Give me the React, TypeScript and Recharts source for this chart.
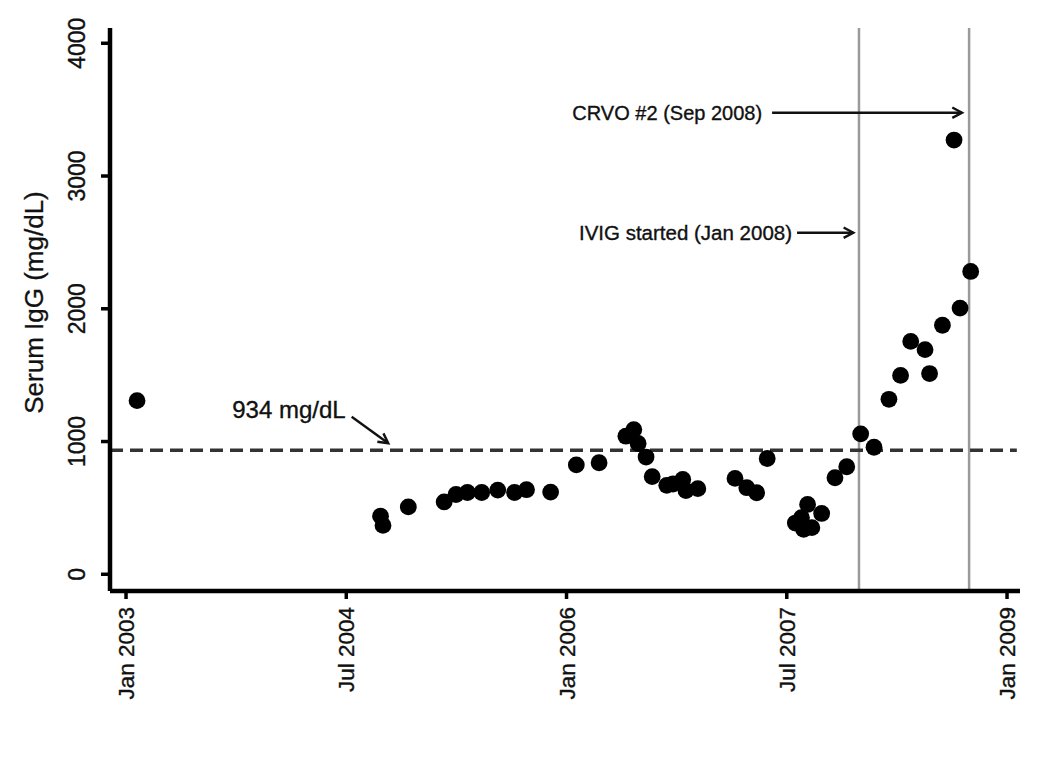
import React from 'react';
import { ScatterChart, Scatter, XAxis, YAxis, ReferenceLine } from 'recharts';

// x values: months elapsed since January 2003
const monthsSinceJan2003 = [
  0.9, 20.8, 21.0, 23.07, 26.0, 26.97, 27.9, 29.07, 30.38, 31.75, 32.73, 34.7,
  36.8, 38.66, 40.85, 41.5, 41.85, 42.5, 43.0, 44.19, 44.7, 45.5, 45.76, 46.73,
  49.77, 50.73, 51.54, 52.4, 54.7, 55.2, 55.38, 55.7, 56.05, 56.85, 57.94, 58.9,
  60.04, 61.13, 62.35, 63.3, 64.13, 65.3, 65.67, 66.72, 67.67, 68.16, 69.03,
];
// Serum IgG, mg/dL
const serumIgG = [
  1308, 438, 368, 508, 545, 601, 616, 616, 634, 616, 637, 619,
  824, 840, 1040, 1090, 985, 883, 736, 670, 680, 714, 630, 645,
  722, 652, 614, 872, 386, 426, 338, 526, 351, 458, 727, 810,
  1058, 957, 1318, 1498, 1754, 1692, 1512, 1876, 3271, 2005, 2281,
];

const xTickMonths = [0, 18, 36, 54, 72];
const xTickLabels = ['Jan 2003', 'Jul 2004', 'Jan 2006', 'Jul 2007', 'Jan 2009'];
const xDomain = [-1.31, 73.06];
const yTicks = [0, 1000, 2000, 3000, 4000];
const yDomain = [-126, 4115];

const thresholdValue = 934;
const eventMonths = [59.9, 68.9];

const annotationLabels = ['934 mg/dL', 'IVIG started (Jan 2008)', 'CRVO #2 (Sep 2008)'];
const annotationFrom = [
  { x: 18.44, y: 1187 },
  { x: 54.84, y: 2573 },
  { x: 52.8, y: 3477 },
];
const annotationTo = [
  { x: 21.43, y: 987 },
  { x: 59.44, y: 2573 },
  { x: 68.32, y: 3477 },
];

const FONT = '"Liberation Sans", Arial, Helvetica, sans-serif';
const TEXT_STROKE = 0.35;

const data = monthsSinceJan2003.map((m, i) => ({ x: m, y: serumIgG[i] }));

const labelStyle = [
  { size: 24, dx: -6, dy: 1.5 },
  { size: 20.5, dx: -5, dy: 7.5 },
  { size: 20, dx: -10, dy: 7.5 },
];

const makeArrow = (idx: number) => (props: any) => {
  const { x1, y1, x2, y2 } = props;
  const ang = Math.atan2(y2 - y1, x2 - x1);
  const L = 11;
  const spread = (28 * Math.PI) / 180;
  const ax = x2 - L * Math.cos(ang - spread);
  const ay = y2 - L * Math.sin(ang - spread);
  const bx = x2 - L * Math.cos(ang + spread);
  const by = y2 - L * Math.sin(ang + spread);
  const st = labelStyle[idx];
  return (
    <g>
      <line x1={x1} y1={y1} x2={x2} y2={y2} stroke="#111" strokeWidth={2.4} />
      <path
        d={`M${ax},${ay} L${x2},${y2} L${bx},${by}`}
        fill="none"
        stroke="#111"
        strokeWidth={2.4}
      />
      <text
        x={x1 + st.dx}
        y={y1 + st.dy}
        textAnchor="end"
        fontFamily={FONT}
        fontSize={st.size}
        fill="#111"
        stroke="#111"
        strokeWidth={TEXT_STROKE}
      >
        {annotationLabels[idx]}
      </text>
    </g>
  );
};

const XTick = (props: any) => {
  const { x, y, payload } = props;
  const i = xTickMonths.indexOf(payload.value);
  const tx = x + 8;
  return (
    <text
      x={tx}
      y={y}
      transform={`rotate(-90, ${tx}, ${y})`}
      textAnchor="end"
      fontFamily={FONT}
      fontSize={22.5}
      fill="#111"
      stroke="#111"
      strokeWidth={TEXT_STROKE}
    >
      {i >= 0 ? xTickLabels[i] : ''}
    </text>
  );
};

const YTick = (props: any) => {
  const { x, y, payload } = props;
  return (
    <text
      x={x}
      y={y}
      transform={`rotate(-90, ${x}, ${y})`}
      textAnchor="middle"
      fontFamily={FONT}
      fontSize={23}
      fill="#111"
      stroke="#111"
      strokeWidth={TEXT_STROKE}
    >
      {payload.value}
    </text>
  );
};

const YLabel = (props: any) => {
  const vb = props.viewBox || { x: 0, y: 28, width: 110, height: 563 };
  const lx = vb.x + 43;
  const ly = vb.y + vb.height / 2 - 7;
  return (
    <text
      x={lx}
      y={ly}
      transform={`rotate(-90, ${lx}, ${ly})`}
      textAnchor="middle"
      fontFamily={FONT}
      fontSize={26}
      fill="#111"
      stroke="#111"
      strokeWidth={0.3}
    >
      Serum IgG (mg/dL)
    </text>
  );
};

const Dot = (props: any) => <circle cx={props.cx} cy={props.cy} r={8.4} fill="#000" />;

export default function App() {
  return (
    <div style={{ position: 'absolute', left: 0, top: 0, width: 1050, height: 763, background: '#fff' }}>
      <ScatterChart
        width={1050}
        height={763}
        margin={{ top: 28, right: 30, bottom: 12, left: 0 }}
      >
        <XAxis
          type="number"
          dataKey="x"
          domain={xDomain}
          ticks={xTickMonths}
          interval={0}
          allowDataOverflow
          height={160}
          tickSize={8}
          tickMargin={8}
          axisLine={{ stroke: '#000', strokeWidth: 4.5 }}
          tickLine={{ stroke: '#000', strokeWidth: 3.5 }}
          tick={<XTick />}
        />
        <YAxis
          type="number"
          dataKey="y"
          domain={yDomain}
          ticks={yTicks}
          interval={0}
          allowDataOverflow
          width={110}
          tickSize={9}
          tickMargin={16}
          axisLine={{ stroke: '#000', strokeWidth: 4.5 }}
          tickLine={{ stroke: '#000', strokeWidth: 3.5 }}
          tick={<YTick />}
          label={{ content: <YLabel /> }}
        />
        {eventMonths.map((m) => (
          <ReferenceLine key={m} x={m} stroke="#9a9a9a" strokeWidth={2.5} />
        ))}
        <ReferenceLine
          segment={[
            { x: xDomain[0], y: thresholdValue },
            { x: 72.8, y: thresholdValue },
          ]}
          stroke="#333"
          strokeWidth={3.5}
          strokeDasharray="13 7"
        />
        {annotationLabels.map((lab, i) => (
          <ReferenceLine
            key={lab}
            segment={[annotationFrom[i], annotationTo[i]]}
            shape={makeArrow(i)}
          />
        ))}
        <Scatter data={data} fill="#000" shape={<Dot />} isAnimationActive={false} />
      </ScatterChart>
    </div>
  );
}
